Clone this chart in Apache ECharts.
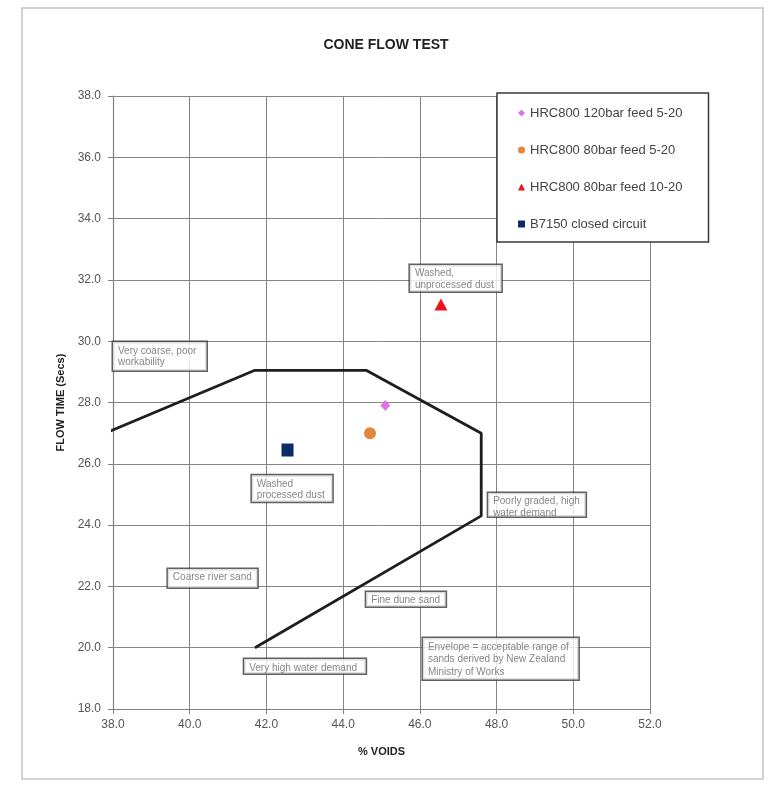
<!DOCTYPE html>
<html><head><meta charset="utf-8">
<script src="https://cdn.jsdelivr.net/npm/echarts@6/dist/echarts.min.js"></script>
<style>html,body{margin:0;padding:0;background:#fff}#c{width:769px;height:785px}</style>
</head><body><div id="c"></div>
<script>
// ---- data ----
const chartTitle = 'CONE FLOW TEST';
const xAxisName = '% VOIDS';
const yAxisName = 'FLOW TIME (Secs)';
const seriesNames = ['HRC800 120bar feed 5-20', 'HRC800 80bar feed 5-20', 'HRC800 80bar feed 10-20', 'B7150 closed circuit'];
const hrc120Feed520 = [[45.1, 27.9]];
const hrc80Feed520 = [[44.7, 27.0]];
const hrc80Feed1020 = [[46.55, 31.2]];
const b7150Closed = [[42.55, 26.45]];
const envelopeLine = [[37.8, 27.0], [41.7, 29.05], [44.6, 29.05], [47.6, 27.0], [47.6, 24.3], [41.7, 20.0]];
const annotationTexts = [
  'Very coarse, poor\nworkability',
  'Washed\nprocessed dust',
  'Washed,\nunprocessed dust',
  'Poorly graded, high\nwater demand',
  'Coarse river sand',
  'Fine dune sand',
  'Very high water demand',
  'Envelope = acceptable range of\nsands derived by New Zealand\nMinistry of Works'
];
const annotationAnchors = [[38.0, 29.97], [41.62, 25.63], [45.74, 32.49], [47.78, 25.05], [39.43, 22.57], [44.6, 21.82], [41.42, 19.63], [46.08, 20.32]];

// ---- styles ----
const FONT = '"Liberation Sans", Arial, sans-serif';
const annotationBoxSizes = [[95, 30], [82, 28], [93, 28], [99, 25], [91, 20], [81, 16], [123, 16], [157, 43]];
const markerStyles = [
  { symbol: 'diamond', size: [10, 11], color: '#D877E0' },
  { symbol: 'circle', size: 12, color: '#E0873C' },
  { symbol: 'triangle', size: [13, 12], color: '#E8141E' },
  { symbol: 'rect', size: [12, 13], color: '#0B2A6A' }
];
const pointData = [hrc120Feed520, hrc80Feed520, hrc80Feed1020, b7150Closed];

const chart = echarts.init(document.getElementById('c'), null, { renderer: 'canvas' });

const series = seriesNames.map((name, i) => ({
  name: name,
  type: 'scatter',
  data: pointData[i],
  symbol: markerStyles[i].symbol,
  symbolSize: markerStyles[i].size,
  itemStyle: { color: markerStyles[i].color, opacity: 1 },
  z: 4
}));

series.push({
  name: 'Envelope',
  type: 'line',
  data: envelopeLine,
  symbol: 'none',
  clip: false,
  lineStyle: { color: '#1e1e1e', width: 2.8 },
  z: 3
});

series.push({
  name: 'Annotations',
  type: 'scatter',
  silent: true,
  symbol: 'rect',
  symbolSize: 0,
  z: 6,
  data: annotationTexts.map((t, i) => ({
    name: t,
    value: annotationAnchors[i],
    label: {
      width: annotationBoxSizes[i][0] - 11.5,
      height: annotationBoxSizes[i][1] - 7.5,
      lineHeight: i === 7 ? 12.5 : 11.5
    }
  })),
  label: {
    show: true,
    position: [0, 0],
    formatter: p => p.name,
    fontFamily: FONT,
    fontSize: 10,
    color: '#666',
    backgroundColor: '#fff',
    borderColor: '#3a3a3a',
    borderWidth: 1.5,
    padding: [3, 5],
    align: 'left',
    verticalAlign: 'top'
  }
});

const option = {
  backgroundColor: '#fff',
  animation: false,
  title: {
    text: chartTitle,
    left: 381,
    top: 33,
    textAlign: 'center',
    textStyle: { fontFamily: FONT, fontSize: 14, fontWeight: 'bold', color: '#222' }
  },
  legend: {
    data: seriesNames,
    orient: 'vertical',
    left: 497,
    top: 93,
    itemWidth: 7,
    itemHeight: 7,
    itemGap: 21,
    padding: [12, 26, 10, 21],
    borderColor: '#3a3a3a',
    borderWidth: 1.5,
    backgroundColor: '#fff',
    textStyle: { fontFamily: FONT, fontSize: 13, color: '#444', lineHeight: 16 },
    z: 10
  },
  grid: { left: 113, right: 119, top: 96, bottom: 76, containLabel: false },
  xAxis: {
    type: 'value',
    min: 38, max: 52, interval: 2,
    name: xAxisName,
    nameLocation: 'middle',
    nameGap: 37,
    nameTextStyle: { fontFamily: FONT, fontSize: 11, fontWeight: 'bold', color: '#222' },
    axisLine: { show: true, lineStyle: { color: '#808080', width: 1.2 } },
    axisTick: { show: true, length: 5, lineStyle: { color: '#808080' } },
    axisLabel: { fontFamily: FONT, fontSize: 12, color: '#555', margin: 10, formatter: v => v.toFixed(1) },
    splitLine: { show: true, lineStyle: { color: '#858585', width: 1 } }
  },
  yAxis: {
    type: 'value',
    min: 18, max: 38, interval: 2,
    name: yAxisName,
    nameLocation: 'middle',
    nameGap: 43,
    nameRotate: 90,
    nameTextStyle: { fontFamily: FONT, fontSize: 11, fontWeight: 'bold', color: '#222' },
    axisLine: { show: true, lineStyle: { color: '#808080', width: 1.2 } },
    axisTick: { show: true, length: 5, lineStyle: { color: '#808080' } },
    axisLabel: { fontFamily: FONT, fontSize: 12, color: '#555', margin: 12, formatter: v => v.toFixed(1) },
    splitLine: { show: true, lineStyle: { color: '#858585', width: 1 } }
  },
  graphic: [{
    type: 'rect',
    shape: { x: 22, y: 8, width: 741, height: 771 },
    style: { fill: 'none', stroke: '#c4c4c4', lineWidth: 1.5 },
    silent: true,
    z: -10
  }],
  series: series
};
chart.setOption(option);
</script>
</body></html>
